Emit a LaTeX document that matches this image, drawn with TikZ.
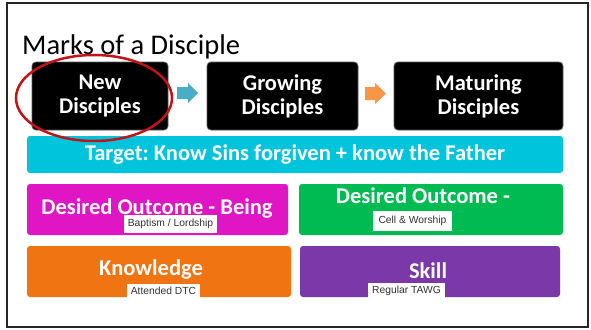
\documentclass[tikz,border=0pt]{standalone}
\usepackage{fontspec}
\setmainfont{Carlito}
\newfontfamily\etiquetafont{Liberation Sans}
\frenchspacing

\definecolor{cian}{RGB}{0,196,220}
\definecolor{rosa}{RGB}{224,22,196}
\definecolor{verd}{RGB}{0,186,82}
\definecolor{taronja}{RGB}{240,116,18}
\definecolor{lila}{RGB}{122,56,168}
\definecolor{blaufletxa}{RGB}{75,172,198}
\definecolor{taronjafletxa}{RGB}{247,150,70}
\definecolor{vermell}{RGB}{192,20,24}
\definecolor{grisfosc}{RGB}{50,50,50}

\begin{document}
\begin{tikzpicture}[x=1pt, y=-1pt,
    fase/.style={fill=black, draw=black!65, line width=0.8pt, rounded corners=4pt,
      text=white, align=center, minimum height=68pt,
      font=\bfseries\fontsize{22.5}{24}\selectfont},
    barra/.style={rounded corners=3pt, minimum height=51pt, inner sep=0pt},
    textbarra/.style={text=white, font=\bfseries\fontsize{22.5}{24}\selectfont, inner sep=0pt},
    etiqueta/.style={fill=white, text=grisfosc, inner sep=0pt,
      font=\etiquetafont\fontsize{10.3}{12}\selectfont}]
        \useasboundingbox (0,0) rectangle (591,329);

        % Marc de la diapositiva
        \draw[line width=1.5pt, black!85] (7,3) rectangle (588,327);

        % Títol
        \node[anchor=base west, inner sep=0pt, font=\fontsize{28.5}{34}\selectfont] (titol) at (22,55) {Marks of a Disciple};

        % Les tres fases
        \node[fase, minimum width=136pt] (nous) at (100,96) {New\\Disciples};
        \node[fase, minimum width=151pt] (creixent) at (282.5,96) {Growing\\Disciples};
        \node[fase, minimum width=169pt] (madurs) at (478.5,96) {Maturing\\Disciples};

        % Fletxes entre fases
        \coordinate (fletxaA) at (177,93);
        \coordinate (fletxaB) at (365,93.5);
        \fill[blaufletxa] (fletxaA) ++(0,-6) -- ++(11,0) -- ++(0,-4) -- ++(10,10) -- ++(-10,10) -- ++(0,-4) -- ++(-11,0) -- cycle;
        \fill[taronjafletxa] (fletxaB) ++(0,-6.5) -- ++(10,0) -- ++(0,-4) -- ++(11,10.5) -- ++(-11,10.5) -- ++(0,-4) -- ++(-10,0) -- cycle;

        % Objectiu
        \node[barra, fill=cian, minimum width=536pt, minimum height=37pt] (objectiu) at (295,154.5) {};
        \node[textbarra] at (objectiu.center) {Target: Know Sins forgiven + know the Father};

        % Resultats desitjats
        \node[barra, fill=rosa, minimum width=261pt] (esser) at (157.5,209.5) {};
        \node[textbarra] at (157,209) {Desired Outcome - Being};
        \node[barra, fill=verd, minimum width=264pt] (pertinenca) at (431,209.5) {};
        \node[textbarra] at (423,196) {Desired Outcome -};

        % Coneixement i habilitat
        \node[barra, fill=taronja, minimum width=264pt] (coneix) at (159,271.5) {};
        \node[textbarra] at (151,270) {Knowledge};
        \node[barra, fill=lila, minimum width=260pt] (habilitat) at (430,271.5) {};
        \node[textbarra] at (428,271) {Skill};

        % Etiquetes blanques
        \node[etiqueta, minimum width=93pt, minimum height=18pt] (baptisme) at (170.5,224) {Baptism / Lordship};
        \node[etiqueta, minimum width=79pt, minimum height=20pt] (cel) at (412.5,221) {Cell \& Worship};
        \node[etiqueta, minimum width=73pt, minimum height=14pt] (dtc) at (163.5,291) {Attended DTC};
        \node[etiqueta, minimum width=77pt, minimum height=15pt] (tawg) at (406.5,290.5) {Regular TAWG};

        % Cercle vermell al voltant de la primera fase
        \draw[vermell, line width=2.5pt] (94,98) ellipse [x radius=78pt, y radius=43pt];

    \end{tikzpicture}
\end{document}
